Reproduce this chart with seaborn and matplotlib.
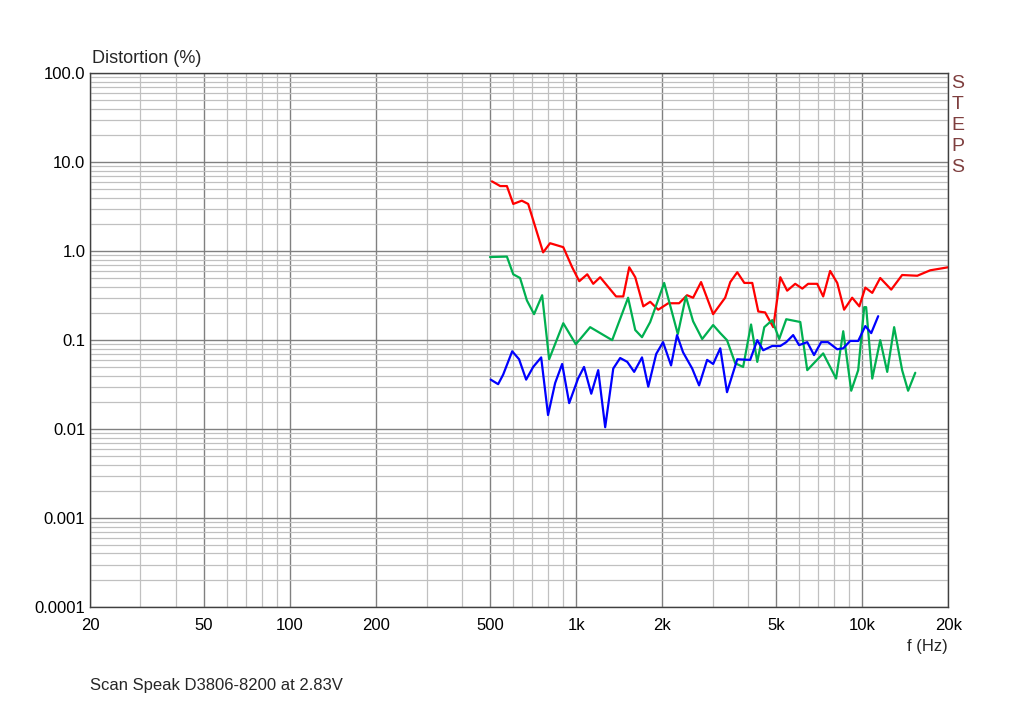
import numpy as np
import pandas as pd
import matplotlib
matplotlib.use('Agg')
import matplotlib.pyplot as plt
from matplotlib.ticker import FixedLocator, LogLocator, NullFormatter
import seaborn as sns

# values (Hz, %)
red_f = [508, 543, 573, 603, 646, 680, 767, 811, 902, 969, 1026, 1094, 1148, 1214, 1380, 1462,
         1534, 1610, 1718, 1816, 1937, 2100, 2292, 2443, 2565, 2735, 3014, 3320, 3460, 3660, 3875,
         4130, 4335, 4580, 4890, 5176, 5470, 5835, 6180, 6475, 6966, 7310, 7730, 8185, 8650, 9230,
         9780, 10260, 10850, 11570, 12640, 13800, 15590, 17300, 20000]
red_p = [6.1, 5.4, 5.4, 3.4, 3.7, 3.4, 0.97, 1.23, 1.11, 0.66, 0.46, 0.55, 0.43, 0.51, 0.31, 0.31,
         0.66, 0.51, 0.24, 0.27, 0.22, 0.26, 0.26, 0.32, 0.30, 0.45, 0.196, 0.30, 0.45, 0.58, 0.44,
         0.44, 0.21, 0.205, 0.14, 0.51, 0.36, 0.43, 0.38, 0.43, 0.43, 0.31, 0.60, 0.44, 0.22, 0.30,
         0.24, 0.39, 0.34, 0.50, 0.37, 0.54, 0.53, 0.61, 0.66]

green_f = [500, 573, 603, 637, 673, 713, 761, 805, 902, 998, 1120, 1337, 1520, 1610, 1700, 1816,
           2032, 2268, 2420, 2565, 2760, 3014, 3192, 3370, 3600, 3837, 4090, 4300, 4550, 4850, 5130,
           5430, 6080, 6430, 7310, 8110, 8590, 9160, 9690, 10170, 10330, 10850, 11570, 12240, 12940,
           13800, 14480, 15340]
green_p = [0.86, 0.87, 0.55, 0.50, 0.28, 0.196, 0.32, 0.061, 0.155, 0.09, 0.14, 0.10, 0.30, 0.13,
           0.108, 0.16, 0.44, 0.117, 0.31, 0.163, 0.103, 0.148, 0.12, 0.10, 0.055, 0.05, 0.15, 0.057,
           0.14, 0.168, 0.103, 0.172, 0.16, 0.046, 0.071, 0.037, 0.126, 0.027, 0.046, 0.235, 0.235,
           0.037, 0.10, 0.044, 0.14, 0.046, 0.027, 0.043]

blue_f = [503, 534, 556, 598, 632, 669, 708, 755, 798, 845, 894, 946, 1016, 1066, 1130, 1195, 1264,
          1349, 1426, 1510, 1596, 1700, 1788, 1906, 2014, 2148, 2254, 2366, 2546, 2692, 2872, 3014,
          3192, 3370, 3660, 4060, 4300, 4510, 4850, 5176, 5430, 5740, 6020, 6430, 6790, 7190, 7600,
          8185, 8590, 9080, 9690, 10260, 10760, 11380]
blue_p = [0.036, 0.032, 0.041, 0.075, 0.061, 0.036, 0.050, 0.064, 0.0144, 0.033, 0.054, 0.0196,
          0.037, 0.050, 0.025, 0.046, 0.0105, 0.048, 0.063, 0.057, 0.044, 0.064, 0.030, 0.070, 0.095,
          0.052, 0.114, 0.073, 0.048, 0.031, 0.060, 0.054, 0.081, 0.026, 0.061, 0.060, 0.10, 0.077,
          0.086, 0.086, 0.095, 0.114, 0.088, 0.095, 0.068, 0.095, 0.095, 0.079, 0.081, 0.098, 0.098,
          0.144, 0.12, 0.186]

x_ticks = [20, 50, 100, 200, 500, 1000, 2000, 5000, 10000, 20000]
x_labels = ['20', '50', '100', '200', '500', '1k', '2k', '5k', '10k', '20k']
y_ticks = [0.0001, 0.001, 0.01, 0.1, 1, 10, 100]
y_labels = ['0.0001', '0.001', '0.01', '0.1', '1.0', '10.0', '100.0']

sns.set_theme(style='white')
plt.rcParams['font.family'] = ['Liberation Sans', 'DejaVu Sans']

fig = plt.figure(figsize=(10.24, 7.05), dpi=100)
ax = fig.add_axes([0.088, 0.139, 0.838, 0.757])

for f, p, c in [(red_f, red_p, '#ff0000'), (green_f, green_p, '#00b050'), (blue_f, blue_p, '#0000ff')]:
    df = pd.DataFrame({'f': f, 'p': p})
    sns.lineplot(data=df, x='f', y='p', ax=ax, color=c, linewidth=1.6, sort=False, estimator=None)

ax.set_xscale('log')
ax.set_yscale('log')
ax.set_xlim(20, 20000)
ax.set_ylim(0.0001, 100)
ax.xaxis.set_major_locator(FixedLocator(x_ticks))
ax.set_xticklabels(x_labels)
ax.yaxis.set_major_locator(FixedLocator(y_ticks))
ax.set_yticklabels(y_labels)
ax.xaxis.set_minor_locator(LogLocator(base=10, subs=np.arange(2, 10)))
ax.yaxis.set_minor_locator(LogLocator(base=10, subs=np.arange(2, 10), numticks=20))
ax.xaxis.set_minor_formatter(NullFormatter())
ax.yaxis.set_minor_formatter(NullFormatter())
ax.grid(which='minor', color='#c0c0c0', linewidth=0.9)
ax.grid(which='major', color='#808080', linewidth=1.0)
ax.tick_params(which='both', length=0, labelsize=12, colors='black')
ax.tick_params(axis='x', pad=8)
ax.set_xlabel('')
ax.set_ylabel('')
for s in ax.spines.values():
    s.set_color('#404040')
    s.set_linewidth(1)

fig.text(0.090, 0.905, 'Distortion (%)', fontsize=13, ha='left', va='bottom')
fig.text(0.926, 0.073, 'f (Hz)', fontsize=12, ha='right', va='bottom')
fig.text(0.088, 0.017, 'Scan Speak D3806-8200 at 2.83V', fontsize=12, ha='left', va='bottom')
fig.text(0.935, 0.893, 'S\nT\nE\nP\nS', fontsize=14, color='#7f3f3f', ha='center', va='top',
         linespacing=1.3)

fig.savefig('out.png', dpi=100, facecolor='white')
